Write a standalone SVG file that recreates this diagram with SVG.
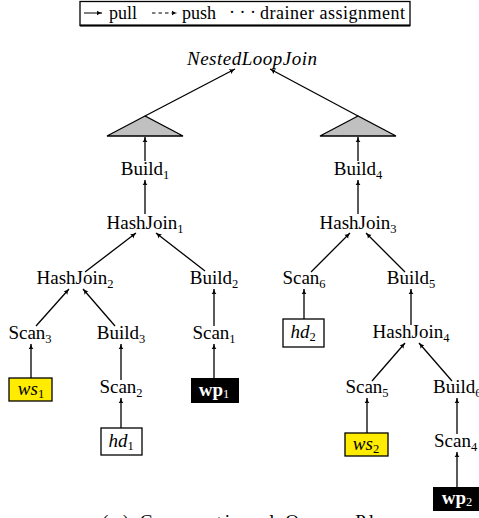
<svg xmlns="http://www.w3.org/2000/svg" width="479" height="518" viewBox="0 0 479 518">
<style>
text{font-family:"Liberation Serif","Times New Roman",serif;font-size:19px;fill:#000}
.lbl{text-anchor:middle}
.it{font-style:italic}
.sub{font-size:12.5px}
.c line{stroke:#000;stroke-width:1.3;marker-end:url(#ah)}
.box{stroke:#000;stroke-width:1.3}
.lg{font-size:18px}
</style>
<defs>
<marker id="ah" viewBox="0 0 10 10" refX="9" refY="5" markerWidth="6" markerHeight="6" markerUnits="userSpaceOnUse" orient="auto">
<path d="M0,0.5 Q4,4 9.5,5 Q4,6 0,9.5 Q2,5 0,0.5Z" fill="#000"/>
</marker>
</defs>
<rect width="479" height="518" fill="#fff"/>
<g id="legend">
<rect x="80" y="1.5" width="330" height="24" fill="#fff" stroke="#000" stroke-width="1.3"/>
<line x1="80" y1="25.5" x2="410" y2="25.5" stroke="#000" stroke-width="2"/>
<line x1="84" y1="13" x2="102" y2="13" stroke="#000" stroke-width="1" marker-end="url(#ah)"/>
<text class="lg" x="109" y="19">pull</text>
<line x1="152" y1="13" x2="177" y2="13" stroke="#000" stroke-width="1" stroke-dasharray="3.5,3" marker-end="url(#ah)"/>
<text class="lg" x="182" y="19">push</text>
<text class="lg" x="229" y="18">· · ·</text>
<text class="lg" x="260" y="19" textLength="145">drainer assignment</text>
</g>
<g id="nlj"><text class="lbl it" x="252" y="65" textLength="130">NestedLoopJoin</text></g>
<g id="tri1"><polygon points="145,116 107,136 183,136" fill="#c0c0c0" stroke="#000" stroke-width="1.3"/></g>
<g id="tri2"><polygon points="358,116 320,136 396,136" fill="#c0c0c0" stroke="#000" stroke-width="1.3"/></g>
<g id="build1"><text class="lbl" x="145" y="175">Build<tspan class="sub" dy="4">1</tspan></text></g>
<g id="hashjoin1"><text class="lbl" x="145" y="229">HashJoin<tspan class="sub" dy="4">1</tspan></text></g>
<g id="hashjoin2"><text class="lbl" x="75" y="284">HashJoin<tspan class="sub" dy="4">2</tspan></text></g>
<g id="build2"><text class="lbl" x="214" y="284">Build<tspan class="sub" dy="4">2</tspan></text></g>
<g id="scan3"><text class="lbl" x="30" y="339">Scan<tspan class="sub" dy="4">3</tspan></text></g>
<g id="build3"><text class="lbl" x="121" y="339">Build<tspan class="sub" dy="4">3</tspan></text></g>
<g id="scan1"><text class="lbl" x="214" y="339">Scan<tspan class="sub" dy="4">1</tspan></text></g>
<g id="ws1"><rect class="box" x="9" y="378" width="43" height="23" fill="#ffec00"/><text class="lbl" x="31" y="395"><tspan class="it">ws</tspan><tspan class="sub" dy="3">1</tspan></text></g>
<g id="scan2"><text class="lbl" x="121" y="393">Scan<tspan class="sub" dy="4">2</tspan></text></g>
<g id="hd1"><rect class="box" x="101" y="428" width="41" height="27" fill="#fff"/><text class="lbl" x="121" y="447"><tspan class="it">hd</tspan><tspan class="sub" dy="3">1</tspan></text></g>
<g id="wp1"><rect x="191" y="378" width="48" height="25" fill="#000"/><text class="lbl" x="214" y="396" style="fill:#fff;font-weight:bold">wp<tspan class="sub" dy="2" style="font-weight:normal">1</tspan></text></g>
<g id="build4"><text class="lbl" x="358" y="175">Build<tspan class="sub" dy="4">4</tspan></text></g>
<g id="hashjoin3"><text class="lbl" x="358" y="229">HashJoin<tspan class="sub" dy="4">3</tspan></text></g>
<g id="scan6"><text class="lbl" x="304" y="284">Scan<tspan class="sub" dy="4">6</tspan></text></g>
<g id="build5"><text class="lbl" x="411" y="284">Build<tspan class="sub" dy="4">5</tspan></text></g>
<g id="hd2"><rect class="box" x="283" y="319" width="41" height="28" fill="#fff"/><text class="lbl" x="303" y="338"><tspan class="it">hd</tspan><tspan class="sub" dy="3">2</tspan></text></g>
<g id="hashjoin4"><text class="lbl" x="411" y="338">HashJoin<tspan class="sub" dy="4">4</tspan></text></g>
<g id="scan5"><text class="lbl" x="367" y="393">Scan<tspan class="sub" dy="4">5</tspan></text></g>
<g id="build6"><text x="433" y="393">Build<tspan class="sub" dy="4">6</tspan></text></g>
<g id="ws2"><rect class="box" x="345" y="433" width="43" height="23" fill="#ffec00"/><text class="lbl" x="366" y="450"><tspan class="it">ws</tspan><tspan class="sub" dy="3">2</tspan></text></g>
<g id="scan4"><text x="434" y="447">Scan<tspan class="sub" dy="4">4</tspan></text></g>
<g id="wp2"><rect x="433" y="487" width="50" height="24" fill="#000"/><text class="lbl" x="457" y="504" style="fill:#fff;font-weight:bold">wp<tspan class="sub" dy="2" style="font-weight:normal">2</tspan></text></g>
<g id="caption"><text x="102" y="528" font-size="24" textLength="296">(a) Conventional Query Plan</text></g>
<g id="connectors" class="c">
<line x1="145" y1="116" x2="235" y2="69"/>
<line x1="358" y1="116" x2="270" y2="69"/>
<line x1="145" y1="161" x2="145" y2="137"/>
<line x1="145" y1="214" x2="145" y2="180"/>
<line x1="85" y1="272" x2="136" y2="233"/>
<line x1="205" y1="271" x2="156" y2="233"/>
<line x1="36" y1="326" x2="69" y2="289"/>
<line x1="115" y1="326" x2="83" y2="289"/>
<line x1="214" y1="326" x2="214" y2="289"/>
<line x1="31" y1="378" x2="31" y2="344"/>
<line x1="121" y1="380" x2="121" y2="344"/>
<line x1="121" y1="428" x2="121" y2="398"/>
<line x1="214" y1="378" x2="214" y2="344"/>
<line x1="358" y1="161" x2="358" y2="137"/>
<line x1="358" y1="214" x2="358" y2="180"/>
<line x1="311" y1="272" x2="350" y2="233"/>
<line x1="405" y1="272" x2="366" y2="233"/>
<line x1="304" y1="319" x2="304" y2="289"/>
<line x1="411" y1="325" x2="411" y2="289"/>
<line x1="372" y1="381" x2="405" y2="343"/>
<line x1="452" y1="381" x2="419" y2="343"/>
<line x1="367" y1="433" x2="367" y2="398"/>
<line x1="457" y1="434" x2="457" y2="398"/>
<line x1="457" y1="487" x2="457" y2="452"/>
</g>
</svg>
